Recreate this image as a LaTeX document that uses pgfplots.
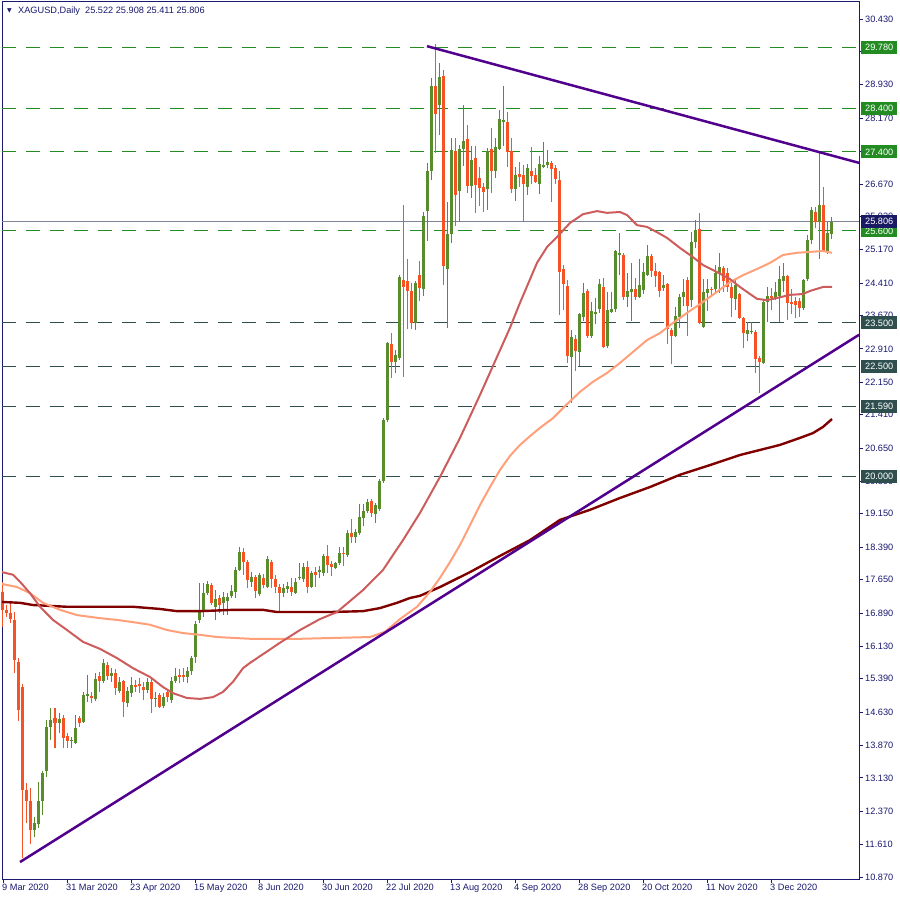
\documentclass[border=0pt]{standalone}
\usepackage{pgfplots}
\pgfplotsset{compat=1.18}
\usepackage{pgfplotstable}
\usepackage{fontspec}
\setmainfont{Liberation Sans}
\newfontfamily\sym{DejaVu Sans}

\definecolor{frame}{RGB}{25,25,112}
\definecolor{upc}{RGB}{88,140,45}
\definecolor{dnc}{RGB}{245,82,38}
\definecolor{lvlg}{RGB}{34,139,34}
\definecolor{lvld}{RGB}{47,79,79}
\definecolor{bidc}{RGB}{125,132,148}
\definecolor{tline}{RGB}{80,0,140}
\definecolor{maA}{RGB}{205,92,92}
\definecolor{maB}{RGB}{255,160,122}
\definecolor{maC}{RGB}{128,0,0}
\definecolor{navybox}{RGB}{25,25,100}

% bar index i: 0 = 9 Mar 2020, one bar per trading day
\pgfplotstableread{
i o h l c
8 11.94 12.24 11.78 12.10
9 12.08 13.03 11.99 12.60
10 12.60 13.28 12.28 13.24
11 13.29 14.45 13.15 14.29
12 14.29 14.72 13.99 14.45
14 14.39 14.61 14.15 14.48
17 13.96 14.06 13.81 13.99
18 13.92 14.56 13.90 14.27
20 14.40 15.09 14.38 15.02
21 15.00 15.47 14.86 15.04
23 14.93 15.52 14.88 15.39
25 15.34 15.84 15.29 15.75
27 15.45 15.63 15.31 15.52
29 15.11 15.43 15.06 15.31
31 14.84 15.20 14.75 15.11
32 15.06 15.43 14.97 15.25
36 15.13 15.41 15.06 15.31
38 14.92 15.09 14.75 14.95
40 14.77 15.06 14.72 14.97
42 14.91 15.43 14.84 15.34
43 15.34 15.63 15.29 15.45
46 15.43 15.66 15.29 15.56
47 15.56 15.91 15.47 15.86
48 15.89 16.71 15.75 16.64
49 16.73 17.57 16.66 16.96
50 16.96 17.57 16.80 17.34
51 17.34 17.62 17.30 17.55
53 17.03 17.41 16.73 17.21
55 17.12 17.37 16.84 17.25
56 17.16 17.34 16.84 17.25
57 17.28 17.53 17.23 17.39
58 17.37 17.94 17.23 17.87
59 17.87 18.39 17.85 18.28
62 17.59 17.82 17.48 17.71
64 17.32 17.80 17.28 17.75
66 17.48 18.19 17.46 18.12
70 17.34 17.55 17.25 17.46
71 17.44 17.60 17.34 17.50
73 17.34 17.69 17.32 17.60
74 17.68 18.03 17.64 17.72
75 17.66 18.03 17.60 17.94
77 17.48 17.85 17.46 17.80
79 17.82 17.96 17.69 17.87
80 17.80 18.23 17.73 18.19
83 17.91 18.05 17.89 18.03
84 18.03 18.39 17.98 18.26
86 18.21 18.78 18.16 18.71
88 18.62 18.80 18.48 18.73
89 18.71 19.37 18.67 19.08
90 19.05 19.37 18.87 19.21
91 19.21 19.49 19.17 19.42
93 19.15 19.40 18.94 19.35
94 19.26 19.94 19.21 19.90
95 19.90 21.33 19.85 21.29
96 21.29 23.07 21.24 23.04
98 22.61 22.88 22.36 22.77
99 22.70 24.59 22.66 24.55
103 23.50 24.45 23.34 24.40
105 24.27 26.03 24.11 25.94
106 26.05 27.15 25.37 26.97
107 26.97 29.09 26.76 28.90
109 28.47 29.43 27.79 29.11
111 24.73 26.26 23.39 25.53
112 25.53 27.72 25.32 27.44
114 26.51 27.56 25.83 27.47
115 27.47 28.47 27.08 27.65
117 26.62 27.53 26.35 27.21
121 26.55 27.49 26.08 27.42
123 26.97 27.72 26.81 27.51
124 27.47 28.36 27.44 28.15
125 28.09 28.90 27.53 28.13
128 26.55 27.06 26.28 26.87
131 26.60 27.12 26.42 27.03
134 26.67 27.31 26.44 27.12
135 27.06 27.63 27.03 27.10
136 27.10 27.44 27.03 27.17
142 22.72 23.34 21.68 23.18
144 22.84 23.73 22.52 23.71
145 23.64 24.41 23.55 24.18
147 23.20 23.98 23.16 23.77
148 23.71 24.07 23.48 23.75
149 23.82 24.50 23.73 24.39
151 22.97 24.21 22.93 23.80
152 23.75 24.21 23.73 23.82
153 23.82 25.16 23.75 25.14
154 25.06 25.55 24.59 25.10
156 24.09 24.64 23.86 24.23
157 24.21 24.87 23.55 24.27
159 24.09 24.96 24.07 24.37
160 24.25 24.87 24.16 24.66
161 24.59 25.28 24.57 25.03
165 24.30 24.59 24.23 24.37
168 23.20 23.86 23.18 23.66
169 23.64 24.16 23.39 24.09
170 24.09 24.50 23.89 24.21
172 24.02 25.57 23.86 25.35
173 25.35 25.85 25.21 25.62
175 23.41 24.50 23.39 24.21
176 24.18 24.50 23.77 24.27
178 24.27 24.82 24.21 24.64
179 24.64 25.10 24.18 24.78
183 24.05 24.48 23.80 24.37
186 23.25 23.52 23.09 23.34
187 23.29 23.52 23.25 23.32
190 22.59 24.02 22.57 23.98
191 23.98 24.32 23.52 24.11
193 24.07 24.43 24.02 24.21
194 24.11 24.80 23.52 24.50
195 24.46 24.87 24.21 24.57
200 23.84 24.50 23.80 24.48
201 24.50 25.51 24.46 25.39
202 25.39 26.14 25.30 26.08
204 25.80 27.40 24.96 26.19
206 25.14 25.80 25.07 25.55
207 25.522 25.908 25.411 25.806
}\upc

\pgfplotstableread{
i o h l c
0 17.37 17.60 16.57 16.96
1 16.96 17.07 16.80 16.89
2 16.89 17.12 16.66 16.76
3 16.73 16.91 15.52 15.82
4 15.77 15.86 14.43 14.68
5 15.20 15.27 11.31 12.85
6 12.85 13.01 12.10 12.60
7 12.60 12.90 11.62 11.94
13 14.50 14.72 13.81 14.39
15 14.50 14.56 13.81 14.04
16 14.08 14.15 13.81 13.97
19 14.50 14.54 14.29 14.39
22 15.00 15.09 14.84 14.95
24 15.45 15.54 15.09 15.34
26 15.70 15.77 15.36 15.45
28 15.52 15.61 15.02 15.18
30 15.34 15.36 14.52 14.86
33 15.25 15.36 15.09 15.20
34 15.27 15.41 15.06 15.23
35 15.20 15.31 14.91 15.13
37 15.31 15.43 14.61 14.93
39 15.02 15.06 14.72 14.75
41 15.09 15.13 14.86 14.97
44 15.47 15.61 15.29 15.44
45 15.47 15.63 15.31 15.43
52 17.52 17.57 17.07 17.12
54 17.23 17.30 16.89 17.07
60 18.28 18.37 17.76 18.05
61 18.05 18.10 17.46 17.64
63 17.71 17.75 17.23 17.39
65 17.69 17.78 17.46 17.53
67 18.05 18.10 17.46 17.66
68 17.66 17.75 17.34 17.48
69 17.48 17.55 16.91 17.34
72 17.48 17.69 17.28 17.37
76 17.94 18.07 17.34 17.48
78 17.82 17.94 17.48 17.75
81 18.19 18.44 17.80 17.98
82 18.00 18.07 17.73 17.94
85 18.26 18.39 17.96 18.23
87 18.71 19.03 18.48 18.62
92 19.44 19.49 19.08 19.17
97 23.02 23.27 22.25 22.61
100 24.48 26.19 22.27 24.32
101 24.46 24.96 23.36 24.23
102 24.23 24.41 23.36 23.50
104 24.59 24.91 24.00 24.30
108 28.90 29.86 27.38 28.26
110 29.13 29.27 24.36 24.80
113 27.42 27.72 25.71 26.42
116 27.69 28.01 26.46 26.62
118 27.26 27.53 26.01 26.65
119 26.81 27.06 26.17 26.58
120 26.60 26.69 26.03 26.49
122 27.47 27.94 26.46 26.97
126 28.08 28.31 27.06 27.40
127 27.42 27.72 26.46 26.55
129 26.90 27.17 26.60 26.83
130 26.87 27.10 25.80 26.67
132 26.97 27.51 26.67 26.85
133 26.87 27.03 26.69 26.71
137 27.15 27.19 26.26 27.01
138 27.03 27.10 26.67 26.78
139 26.76 26.97 23.68 24.66
140 24.73 24.82 23.80 24.39
141 24.34 24.48 22.59 22.75
143 23.14 23.23 22.40 22.86
146 24.23 24.27 23.16 23.20
150 24.32 24.53 22.93 22.95
155 25.05 25.10 24.02 24.09
158 24.27 24.53 24.02 24.09
162 25.03 25.07 24.55 24.69
163 24.69 24.87 24.32 24.57
164 24.66 24.69 24.09 24.23
166 24.39 24.41 23.02 23.36
167 23.34 23.39 22.56 23.20
171 24.48 24.55 23.20 23.89
174 25.65 26.01 23.47 23.50
177 24.28 24.32 24.14 24.25
180 24.75 24.80 24.21 24.46
181 24.64 24.75 24.21 24.32
182 24.32 24.41 23.64 24.07
184 24.16 24.18 23.59 23.61
185 23.61 23.64 22.93 23.27
188 23.29 23.34 22.36 22.68
189 22.70 22.75 21.90 22.61
192 24.11 24.30 23.80 24.08
196 24.57 24.59 23.57 23.96
197 23.98 24.27 23.71 23.93
198 24.00 24.09 23.61 23.91
199 24.00 24.07 23.64 23.84
203 26.03 26.14 25.67 25.80
205 26.19 26.60 25.12 25.14
}\dnc

% moving averages
\pgfplotstableread{
i p
-0.25 17.82
2.5 17.76
4.25 17.60
6.75 17.34
9.25 17.03
12.5 16.73
16 16.50
20 16.23
24.25 16.07
28.5 15.86
32.5 15.63
36.75 15.43
40 15.20
42.5 15.06
46 14.95
49.25 14.93
52.5 14.97
55 15.09
57.5 15.32
60 15.63
61.75 15.75
65.5 15.98
69.25 16.21
74.25 16.50
79.25 16.75
83.5 16.91
90 17.41
95 17.87
100 18.55
104.25 19.17
109.25 19.99
114.25 20.88
119.25 21.86
124.25 22.88
126.75 23.39
129.25 23.96
133.5 24.87
136 25.23
138.5 25.46
141.75 25.78
145 25.98
148.5 26.05
151 26.01
154.25 26.03
156 25.96
158.5 25.73
161 25.69
163.5 25.57
166 25.44
169.25 25.21
172.5 25.00
175 24.82
178.5 24.66
181.75 24.50
184.25 24.32
186.75 24.16
188.5 24.05
191 24.02
193.5 24.07
196.75 24.14
200 24.16
201.75 24.23
205 24.32
207.25 24.32
}\maAt

\pgfplotstableread{
i p
-0.25 17.55
3.5 17.48
6.75 17.34
10 17.12
14.25 16.96
18.5 16.84
24.25 16.77
28.5 16.73
32.5 16.68
36.75 16.62
41 16.50
45 16.43
49.25 16.39
53.5 16.34
61.75 16.30
74.25 16.30
91.75 16.34
95.5 16.46
99.25 16.75
103.5 17.03
106.75 17.37
109.25 17.69
111.75 18.05
114.25 18.44
116.75 18.89
119.25 19.35
121.75 19.76
124.25 20.15
126.75 20.47
129.25 20.72
131.75 20.92
134.25 21.11
137.5 21.33
141 21.65
144.25 21.93
147.5 22.16
151 22.36
154.25 22.59
157.5 22.84
161 23.11
164.25 23.27
167.5 23.50
171 23.73
174.25 23.93
178.5 24.21
181.75 24.43
185 24.59
188.5 24.73
191.75 24.87
195 25.05
198.5 25.10
201.75 25.12
205 25.14
207.25 25.10
}\maBt

\pgfplotstableread{
i p
-0.25 17.14
4.25 17.12
7.5 17.07
16 17.03
32.5 17.03
39.25 16.98
43.5 16.93
49.25 16.93
57.5 16.96
65 16.96
68.5 16.91
81.75 16.91
90 16.93
94.25 17.00
98.5 17.12
101.75 17.23
104.25 17.28
109.25 17.48
116.75 17.82
124.25 18.19
131.75 18.55
139.25 19.01
146.75 19.24
154.25 19.51
161.75 19.76
169.25 20.04
176.75 20.26
184.25 20.49
194.25 20.72
199.25 20.88
202.5 20.99
205 21.13
207.25 21.31
}\maCt

\begin{document}
\begin{tikzpicture}
\begin{axis}[
  at={(2pt,21pt)}, anchor=south west,
  scale only axis, width=857pt, height=878pt,
  xmin=-0.25, xmax=214, ymin=10.824, ymax=30.840,
  clip=false,
  axis line style={draw=frame, line width=0.9pt},
  tick style={draw=frame, line width=0.8pt},
  tick align=outside, major tick length=4pt,
  xtick pos=bottom, ytick pos=right, yticklabel pos=right,
  ticklabel style={font=\fontsize{9.2}{11}\selectfont, text=frame, inner sep=0pt},
  xtick={0,16,...,192},
  xticklabels={9 Mar 2020,31 Mar 2020,23 Apr 2020,15 May 2020,8 Jun 2020,30 Jun 2020,22 Jul 2020,13 Aug 2020,4 Sep 2020,28 Sep 2020,20 Oct 2020,11 Nov 2020,3 Dec 2020},
  xticklabel style={anchor=north west, xshift=-1pt, yshift=-1pt},
  ytick={10.87,11.61,12.37,13.13,13.87,14.63,15.39,16.13,16.89,17.65,18.39,19.15,19.89,20.65,21.41,22.15,22.91,23.67,24.41,25.17,25.93,26.67,27.41,28.17,28.93,29.69,30.43},
  yticklabels={10.870,11.610,12.370,13.130,13.870,14.630,15.390,16.130,16.890,17.650,18.390,19.150,19.890,20.650,21.410,22.150,22.910,23.670,24.410,25.170,25.930,26.670,27.410,28.170,28.930,29.690,30.430},
  yticklabel style={anchor=west, xshift=2pt},
  candle/.style={draw=none, mark=none, forget plot,
    error bars/y dir=plus, error bars/y explicit, error bars/error mark=none},
]
% horizontal levels
\addplot[lvlg, line width=1pt, dash pattern=on 14pt off 10pt] coordinates {(-0.25,29.78) (214,29.78)};
\addplot[lvlg, line width=1pt, dash pattern=on 14pt off 10pt] coordinates {(-0.25,28.40) (214,28.40)};
\addplot[lvlg, line width=1pt, dash pattern=on 14pt off 10pt] coordinates {(-0.25,27.40) (214,27.40)};
\addplot[lvlg, line width=1pt, dash pattern=on 14pt off 10pt] coordinates {(-0.25,25.60) (214,25.60)};
\addplot[lvld, line width=1pt, dash pattern=on 14pt off 10pt] coordinates {(-0.25,23.50) (214,23.50)};
\addplot[lvld, line width=1pt, dash pattern=on 14pt off 10pt] coordinates {(-0.25,22.50) (214,22.50)};
\addplot[lvld, line width=1pt, dash pattern=on 14pt off 10pt] coordinates {(-0.25,21.59) (214,21.59)};
\addplot[lvld, line width=1pt, dash pattern=on 14pt off 10pt] coordinates {(-0.25,20.00) (214,20.00)};
\addplot[bidc, line width=1pt] coordinates {(-0.25,25.806) (214,25.806)};

% candles: wicks then bodies
\addplot[candle, error bars/error bar style={draw=upc, solid, line width=1pt}]
  table[x=i, y=l, y error plus expr=\thisrow{h}-\thisrow{l}] {\upc};
\addplot[candle, error bars/error bar style={draw=dnc, solid, line width=1pt}]
  table[x=i, y=l, y error plus expr=\thisrow{h}-\thisrow{l}] {\dnc};
\addplot[candle, error bars/error bar style={draw=upc, solid, line width=3pt, line cap=butt}]
  table[x=i, y=o, y error plus expr=\thisrow{c}-\thisrow{o}] {\upc};
\addplot[candle, error bars/error bar style={draw=dnc, solid, line width=3pt, line cap=butt}]
  table[x=i, y=c, y error plus expr=\thisrow{o}-\thisrow{c}] {\dnc};

% moving averages
\addplot[maC, line width=2.4pt] table[x=i, y=p] {\maCt};
\addplot[maB, line width=2pt] table[x=i, y=p] {\maBt};
\addplot[maA, line width=2pt] table[x=i, y=p] {\maAt};

% trend lines
\addplot[tline, line width=2.5pt] coordinates {(4.25,11.21) (214,23.23)};
\addplot[tline, line width=2.5pt] coordinates {(106,29.81) (214,27.15)};

\coordinate (b1) at (axis cs:214,29.78);
\coordinate (b2) at (axis cs:214,28.40);
\coordinate (b3) at (axis cs:214,27.40);
\coordinate (b4) at (axis cs:214,25.60);
\coordinate (b5) at (axis cs:214,23.50);
\coordinate (b6) at (axis cs:214,22.50);
\coordinate (b7) at (axis cs:214,21.59);
\coordinate (b8) at (axis cs:214,20.00);
\coordinate (b9) at (axis cs:214,25.806);
\end{axis}

\tikzset{lvbox/.style={anchor=west, xshift=2pt, text=white, inner sep=0pt,
  minimum width=36pt, minimum height=13pt, font=\fontsize{9.2}{11}\selectfont}}
\node[lvbox, fill=lvlg] at (b1) {29.780};
\node[lvbox, fill=lvlg] at (b2) {28.400};
\node[lvbox, fill=lvlg] at (b3) {27.400};
\node[lvbox, fill=lvlg] at (b4) {25.600};
\node[lvbox, fill=lvld] at (b5) {23.500};
\node[lvbox, fill=lvld] at (b6) {22.500};
\node[lvbox, fill=lvld] at (b7) {21.590};
\node[lvbox, fill=lvld] at (b8) {20.000};
\node[lvbox, fill=navybox] at (b9) {25.806};

\node[anchor=west, inner sep=0pt, text=frame, font=\sym\fontsize{6}{6}\selectfont] at (7pt,889pt) {▼};
\node[anchor=west, inner sep=0pt, text=frame, font=\fontsize{9.2}{11}\selectfont] at (18pt,889pt) {XAGUSD,Daily\ \ 25.522 25.908 25.411 25.806};

\pgfresetboundingbox
\path[use as bounding box] (0pt,0pt) rectangle (900pt,900pt);
\end{tikzpicture}
\end{document}
